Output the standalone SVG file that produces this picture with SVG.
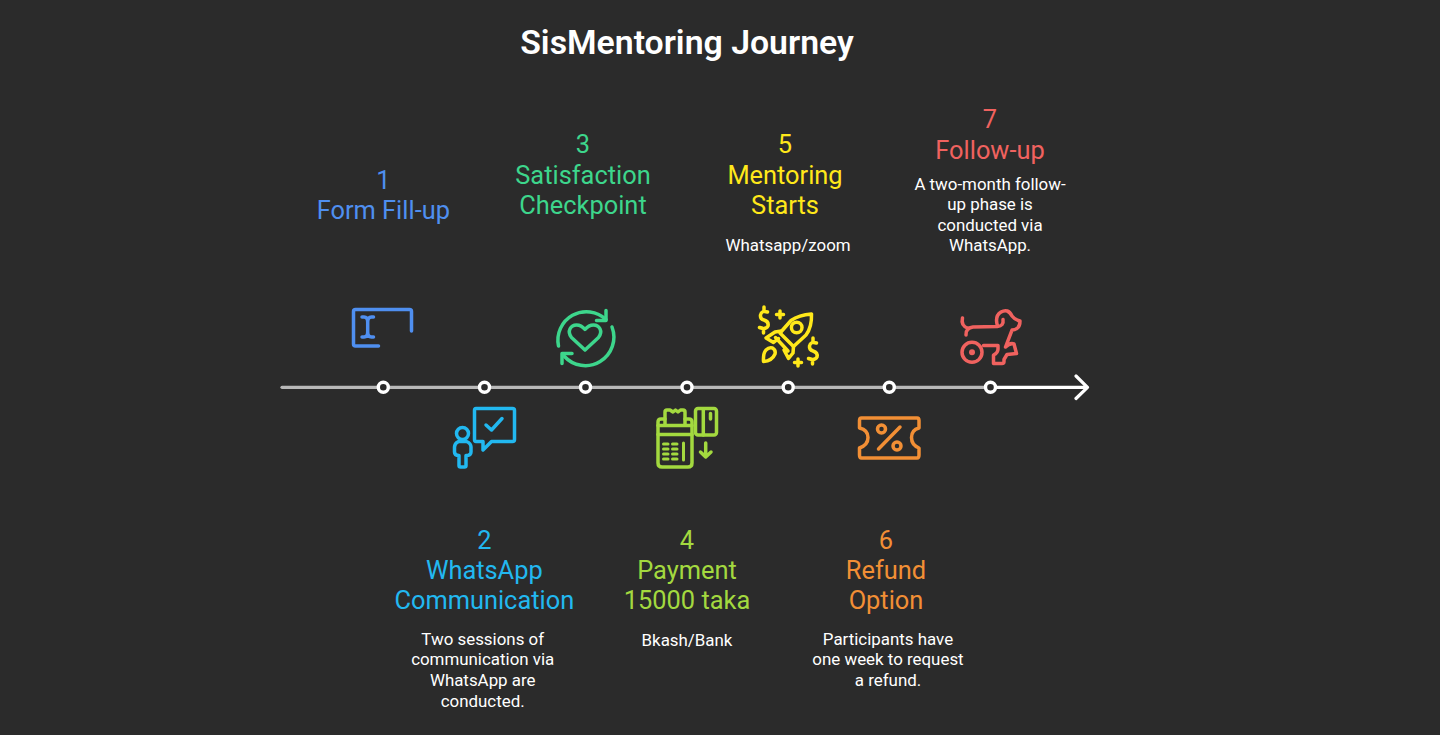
<svg xmlns="http://www.w3.org/2000/svg" width="1440" height="735" viewBox="0 0 1440 735">
<style>
text{font-family:Roboto,"Liberation Sans",sans-serif;text-anchor:middle}
.t{font-size:33.8px;font-weight:600;fill:#fff}
.h{font-size:25.4px}
.b{font-size:16.9px;fill:#fff}
.i{fill:none;stroke-width:3.500;stroke-linecap:round;stroke-linejoin:round}
.d{fill:#2b2b2b;stroke:#fff;stroke-width:3.400}
</style>
<rect width="1440" height="735" fill="#2b2b2b"/>
<text class="t" x="687" y="54">SisMentoring Journey</text>
<g id="connectors" fill="none" stroke-linecap="round" stroke-linejoin="round" stroke-width="3.200">
<path d="M282 387.300H990" stroke="#b8b8b8"/>
<path d="M990 387.300H1087M1076 376L1087.500 387.300L1076 398.500" stroke="#fff"/>
</g>
<g id="node1" fill="#4f8ff0">
<circle class="d" cx="383.300" cy="387.300" r="5"/>
<g class="i" stroke="#4f8ff0"><path d="M411.500 331V311.500Q411.500 309.500 409.500 309.500H355.500Q353.500 309.500 353.500 311.500V344Q353.500 346 355.500 346H378.500"/><path d="M362 317H364Q367.700 317 367.700 322V332Q367.700 337 364 337H362M373.500 317H371.500Q367.700 317 367.700 322M367.700 332Q367.700 337 371.500 337H373.500"/></g>
<text class="h" x="383.300" y="189">1</text><text class="h" x="383.300" y="219">Form Fill-up</text>
</g>
<g id="node2" fill="#22b8f0">
<circle class="d" cx="484.500" cy="387.300" r="5"/>
<g class="i" stroke="#22b8f0"><path d="M476 408.500H512.500Q514.500 408.500 514.500 410.500V439.500Q514.500 441.500 512.500 441.500H491.500L483 450L483 441.500H476Q474.500 441.500 474.500 439.500V410.500Q474.500 408.500 476 408.500Z"/><path d="M486 425L491.500 430L502 418.500"/><circle cx="462.500" cy="433.500" r="6"/><path d="M458.500 441.500Q454.500 443.500 454.500 447V452Q454.500 455.500 459 455.500V465.500Q459 467 460.500 467H464.500Q466 467 466 465.500V455.500Q471 455.500 471 452V447Q471 443.500 466.500 441.500Z"/></g>
<text class="h" x="484.300" y="548.500">2</text><text class="h" x="484.300" y="578.500">WhatsApp</text><text class="h" x="484.300" y="608.500">Communication</text>
<text class="b" x="482.700" y="645">Two sessions of</text><text class="b" x="482.700" y="665">communication via</text><text class="b" x="482.700" y="686">WhatsApp are</text><text class="b" x="482.700" y="707">conducted.</text>
</g>
<g id="node3" fill="#3dd68c">
<circle class="d" cx="585.500" cy="387.300" r="5"/>
<g class="i" stroke="#3dd68c" transform="translate(-1.500 0)"><path d="M560 346A28.500 28.500 0 0 1 607.500 319.500M613.500 327A28.500 28.500 0 0 1 565.500 356"/><path d="M607.500 310.500V320.500H598M563.500 363.500V353.500H573.500"/><path d="M586.500 350L573 337.500C568 331 572.500 325 578 325C582 325 584.500 327 586.500 329.500C588.500 327 591 325 595 325C600.500 325 605 331 600 337.500Z"/></g>
<text class="h" x="583" y="153">3</text><text class="h" x="583" y="184">Satisfaction</text><text class="h" x="583" y="214">Checkpoint</text>
</g>
<g id="node4" fill="#a3d93f">
<circle class="d" cx="687" cy="387.300" r="5"/>
<g class="i" stroke="#a3d93f"><path d="M665 419H661Q658 419 658 422V463Q658 467 662 467H688Q692 467 692 463V422Q692 419 689 419H685"/><path d="M658 425.500H692M658 434.500H692M665 425V412Q665 410 667 410H670L673 412L675.500 410L678 412L680.500 410H683Q685 410 685 412V425"/></g>
<g fill="none" stroke="#a3d93f" stroke-width="3" stroke-linecap="round"><path d="M663.500 444H668M672.500 444H677M663.500 449H668M672.500 449H677M663.500 454H668M672.500 454H677M663.500 459H668M672.500 459H677M683.500 443V460"/></g>
<g class="i" stroke="#a3d93f"><rect x="695.500" y="408.500" width="21" height="26.500" rx="2.500"/><path d="M703.300 409V435M710.500 413.500V419M705.700 443V457M700.500 452L705.700 457L711 452"/></g>
<text class="h" x="687" y="548.500">4</text><text class="h" x="687" y="578.500">Payment</text><text class="h" x="687" y="608.500">15000 taka</text>
<text class="b" x="687" y="646">Bkash/Bank</text>
</g>
<g id="node5" fill="#ffe81a">
<circle class="d" cx="788.200" cy="387.300" r="5"/>
<g class="i" stroke="#ffe81a"><path d="M811.500 314Q812 327 806 335L793.500 346.500L780 333L791 320.500Q799 315 811.500 314Z"/><circle cx="796.700" cy="327.500" r="5.300"/><path d="M781.500 331L775 332L766 338L773.500 342.500L778.500 338.500M775.500 337.500L788 351M793.500 346.500L793 353L788.500 358.500L784 350"/><path d="M772.500 348Q776 350 775 354Q772 361 763.500 361.500Q763 353 766 350Q769 347 772.500 348Z"/><path d="M767.500 312Q761.500 310 760.500 315Q760 319 764 320Q769 321.500 768 326Q766 330 759.500 327.500M764 307V310M763.500 330V333"/><path d="M816.500 343Q810.500 341 809.500 346Q809 350 813 351Q818 352.500 817 357Q815 361 808.500 358.500M813 338V341M812.500 361V364"/><path d="M780 311V318M776.500 314.500H783.500M798 359V366M794.500 362.500H801.500"/></g>
<text class="h" x="785" y="153">5</text><text class="h" x="785" y="184">Mentoring</text><text class="h" x="785" y="214">Starts</text>
<text class="b" x="788" y="251">Whatsapp/zoom</text>
</g>
<g id="node6" fill="#f28f35">
<circle class="d" cx="889.300" cy="387.300" r="5"/>
<g class="i" stroke="#f28f35"><path d="M861.500 418H917Q919 418 919 420.500V428Q911.500 430 911.500 437.500Q911.500 445 919 448V455Q919 458 917 458H861.500Q859.500 458 859.500 455V448Q868 445 868 437.500Q868 430 859.500 428V420.500Q859.500 418 861.500 418Z"/><path d="M878.500 449L900 427"/><circle cx="881.500" cy="429" r="4"/><circle cx="897" cy="446" r="4"/></g>
<text class="h" x="886" y="548.500">6</text><text class="h" x="886" y="578.500">Refund</text><text class="h" x="886" y="608.500">Option</text>
<text class="b" x="888" y="645">Participants have</text><text class="b" x="888" y="665">one week to request</text><text class="b" x="888" y="686">a refund.</text>
</g>
<g id="node7" fill="#f0625f">
<circle class="d" cx="990.500" cy="387.300" r="5"/>
<g class="i" stroke="#f0625f"><path d="M962.500 318Q960.500 326 968.500 328.500M966 335Q965.500 328 973 327L997.500 326.500Q1004 326 1003 319.500"/><path d="M997.500 326Q994.500 316 1001 312Q1008 308 1012 316Q1015 320 1020 321Q1020 326 1017.500 328Q1015 330 1012 330L1005.500 347Q1010 342.500 1014 344L1016.500 353.500L1007 354.500L1004 359.500V361.500Q1004 363.500 1002 363.500H993.500V355Q998 353 998 349V345.500H983.500"/><circle cx="972" cy="352.300" r="10"/></g>
<circle cx="972" cy="352.300" r="3" fill="#f0625f"/>
<text class="h" x="990" y="128">7</text><text class="h" x="990" y="158.500">Follow-up</text>
<text class="b" x="990" y="190">A two-month follow-</text><text class="b" x="990" y="210">up phase is</text><text class="b" x="990" y="231">conducted via</text><text class="b" x="990" y="251">WhatsApp.</text>
</g>
</svg>
